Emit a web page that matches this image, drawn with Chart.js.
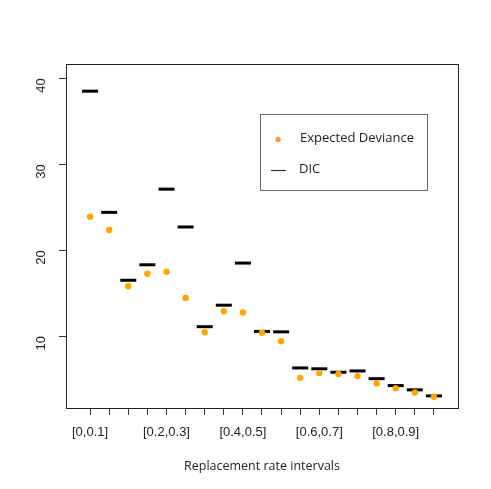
<!DOCTYPE html>
<html>
<head>
<meta charset="utf-8">
<script src="https://cdn.jsdelivr.net/npm/chart.js@4/dist/chart.umd.min.js"></script>
<style>
html,body{margin:0;padding:0;background:#fff;}
#wrap{width:491px;height:489px;position:relative;}
</style>
</head>
<body>
<div id="wrap"><canvas id="c" width="491" height="489"></canvas></div>
<script>
// Categories: sliding replacement-rate windows (width 0.1, step 0.05)
const categories = ['[0,0.1]','[0.05,0.15]','[0.1,0.2]','[0.15,0.25]','[0.2,0.3]','[0.25,0.35]','[0.3,0.4]','[0.35,0.45]','[0.4,0.5]','[0.45,0.55]','[0.5,0.6]','[0.55,0.65]','[0.6,0.7]','[0.65,0.75]','[0.7,0.8]','[0.75,0.85]','[0.8,0.9]','[0.85,0.95]','[0.9,1]'];
const dicValues = [38.5,24.4,16.5,18.3,27.1,22.7,11.1,13.6,18.5,10.55,10.5,6.3,6.2,5.8,5.95,5.05,4.25,3.75,3.05];
const expectedDeviance = [23.9,22.35,15.8,17.25,17.5,14.45,10.45,12.9,12.75,10.4,9.4,5.15,5.7,5.6,5.35,4.5,3.95,3.45,2.95];
const yTickValues = [10,20,30,40];
const legendLabels = ['Expected Deviance','DIC'];
const xTitle = 'Replacement rate intervals';

const dicPts = dicValues.map((v,i)=>({x:i+1,y:v}));
const devPts = expectedDeviance.map((v,i)=>({x:i+1,y:v}));

const boxPlugin = {
  id:'boxPlugin',
  afterDraw(chart){
    const {ctx, chartArea:a} = chart;
    ctx.save();
    ctx.strokeStyle = '#222';
    ctx.lineWidth = 1;
    ctx.strokeRect(Math.round(a.left)+0.5, Math.round(a.top)+0.5, Math.round(a.right-a.left), Math.round(a.bottom-a.top));
    // legend box
    const lx=260.5, ly=114.5, lw=167, lh=76;
    ctx.strokeStyle='#666';
    ctx.strokeRect(lx,ly,lw,lh);
    ctx.fillStyle='#F4A040';
    ctx.beginPath(); ctx.arc(278,139.5,2.7,0,Math.PI*2); ctx.fill();
    ctx.strokeStyle='#333'; ctx.lineWidth=1.2;
    ctx.beginPath(); ctx.moveTo(271,170.5); ctx.lineTo(286,170.5); ctx.stroke();
    ctx.fillStyle='#222';
    ctx.font='13px "Open Sans"';
    ctx.textBaseline='middle';
    ctx.textAlign='left';
    ctx.fillText(legendLabels[0],300,138);
    ctx.fillText(legendLabels[1],299,169);
    ctx.restore();
  }
};

new Chart(document.getElementById('c'),{
  type:'scatter',
  data:{datasets:[
    {label:legendLabels[0],data:devPts,pointStyle:'circle',pointRadius:3.2,pointHoverRadius:3.2,backgroundColor:'#FFA500',borderWidth:0,order:0},
    {label:legendLabels[1],data:dicPts,pointStyle:'line',pointRadius:8,pointHoverRadius:8,borderColor:'#000',borderWidth:3,backgroundColor:'#000',order:1}
  ]},
  options:{
    responsive:false,
    animation:false,
    events:[],
    layout:{padding:{left:0,right:33,top:64,bottom:0}},
    plugins:{legend:{display:false},tooltip:{enabled:false}},
    scales:{
      x:{
        type:'linear',min:-0.26,max:20.26,
        afterBuildTicks(s){s.ticks=categories.map((c,i)=>({value:i+1}));},
        afterFit(s){s.height=81;},
        grid:{drawOnChartArea:false,drawTicks:true,tickLength:7,color:'#333'},
        border:{display:false},
        ticks:{autoSkip:false,maxRotation:0,minRotation:0,padding:10,color:'#222',font:{family:'"Liberation Sans"',size:13},
          callback:(v)=>((v-1)%4===0?categories[v-1]:'')},
        title:{display:true,text:xTitle,color:'#222',font:{family:'"Open Sans"',size:12.5},padding:{top:4,bottom:15}}
      },
      y:{
        type:'linear',min:1.64,max:41.66,
        afterBuildTicks(s){s.ticks=yTickValues.map(v=>({value:v}));},
        afterFit(s){s.width=66;},
        grid:{drawOnChartArea:false,drawTicks:true,tickLength:7,color:'#333'},
        border:{display:false},
        ticks:{minRotation:90,maxRotation:90,padding:18,color:'#222',font:{family:'"Liberation Sans"',size:13}}
      }
    }
  },
  plugins:[boxPlugin]
});
</script>
</body>
</html>
